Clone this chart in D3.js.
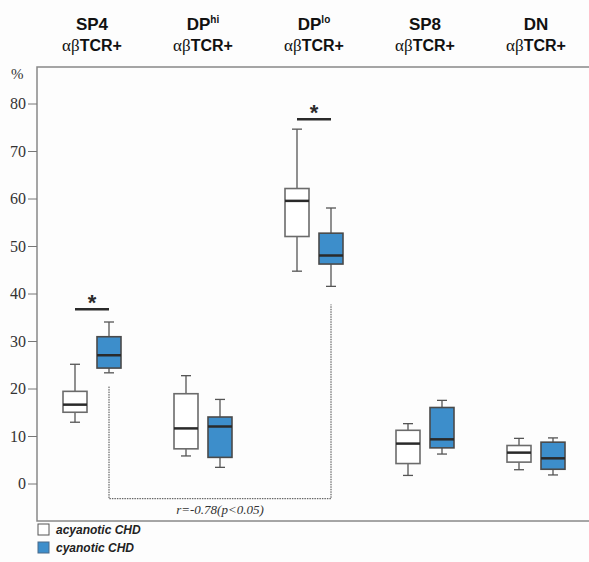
<!DOCTYPE html>
<html>
<head>
<meta charset="utf-8">
<script src="https://cdn.jsdelivr.net/npm/d3@7"></script>
<style>
  body { margin: 0; background: #fdfdfd; }
  svg { display: block; }
</style>
</head>
<body>
<div id="chart"></div>
<script>
// cell populations, two patient groups per population
const groups = ["SP4", "DPhi", "DPlo", "SP8", "DN"];
const groupMain = ["SP4", "DP", "DP", "SP8", "DN"];
const groupSup = ["", "hi", "lo", "", ""];
const series = ["acyanotic CHD", "cyanotic CHD"];

// [low whisker, Q1, median, Q3, high whisker]
const acyanotic = [
  [12.9, 15.0, 16.6, 19.4, 25.1],
  [5.8, 7.3, 11.6, 18.9, 22.7],
  [44.7, 52.0, 59.5, 62.1, 74.6],
  [1.7, 4.2, 8.4, 11.2, 12.6],
  [2.9, 4.5, 6.5, 8.0, 9.5]
];
const cyanotic = [
  [23.3, 24.3, 27.0, 30.9, 34.0],
  [3.4, 5.5, 12.0, 14.0, 17.7],
  [41.5, 46.2, 48.0, 52.7, 58.0],
  [6.2, 7.5, 9.3, 16.0, 17.5],
  [1.8, 3.0, 5.3, 8.7, 9.6]
];

// significance bars: group index and bar level (%)
const sigGroups = [0, 2];
const sigLevels = [36.7, 76.7];

// correlation bracket: from SP4 cyanotic to DPlo cyanotic
const corrFrom = { group: 0, top: 20.4 };
const corrTo = { group: 2, top: 37.7 };
const corrBottom = -3.2;
const corrLabel = "r=-0.78(p<0.05)";

const yTicks = [0, 10, 20, 30, 40, 50, 60, 70, 80];
const colors = ["#ffffff", "#3d8ecb"];
const strokes = ["#6b6b6b", "#4a4a4a"];

const serif = "'Liberation Serif', 'DejaVu Serif', serif";
const sans = "'Liberation Sans', Arial, sans-serif";

const width = 589, height = 562;
const frame = { left: 37, top: 67, right: 600, bottom: 521 };

const svg = d3.select("#chart").append("svg")
  .attr("width", width)
  .attr("height", height);

const y = d3.scaleLinear().domain([0, 80]).range([483.5, 103.5]);
const x = d3.scaleBand().domain(groups).range([36.5, 591.5]);
const xs = d3.scalePoint().domain(series).range([38.5, 72.5]);
const boxW = 24, capW = 10;

// frame
svg.append("rect")
  .attr("x", frame.left).attr("y", frame.top)
  .attr("width", frame.right - frame.left)
  .attr("height", frame.bottom - frame.top)
  .attr("fill", "none")
  .attr("stroke", "#888")
  .attr("stroke-width", 1.5);

// y axis
const yAxis = d3.axisLeft(y).tickValues(yTicks).tickSize(9).tickPadding(2);
const ga = svg.append("g")
  .attr("transform", `translate(${frame.left},0)`)
  .call(yAxis)
  .attr("font-family", serif)
  .attr("font-size", 16);
ga.select(".domain").remove();
ga.selectAll(".tick line").attr("stroke", "#777");
ga.selectAll(".tick text").attr("fill", "#333");

svg.append("text")
  .attr("x", 11).attr("y", 79)
  .attr("fill", "#333")
  .attr("font-family", serif)
  .attr("font-size", 15)
  .text("%");

// headers
const head = svg.append("g");
groups.forEach((g, i) => {
  const cx = x(g) + x.bandwidth() / 2;
  const t = head.append("text")
    .attr("x", cx).attr("y", 30)
    .attr("text-anchor", "middle")
    .attr("fill", "#111")
    .attr("font-family", sans)
    .attr("font-weight", "bold")
    .attr("font-size", 17);
  t.append("tspan").text(groupMain[i]);
  if (groupSup[i]) {
    t.append("tspan").attr("dy", -7).attr("font-size", 10).text(groupSup[i]);
  }
  const t2 = head.append("text")
    .attr("x", cx).attr("y", 51)
    .attr("text-anchor", "middle")
    .attr("fill", "#111")
    .attr("font-size", 17);
  t2.append("tspan")
    .attr("font-family", serif)
    .text("αβ");
  t2.append("tspan")
    .attr("font-family", sans)
    .attr("font-weight", "bold")
    .attr("font-size", 16)
    .text("TCR+");
});

// correlation bracket
const cx0 = x(groups[corrFrom.group]) + xs(series[1]);
const cx1 = x(groups[corrTo.group]) + xs(series[1]);
svg.append("path")
  .attr("d", d3.line()([
    [cx0, y(corrFrom.top)], [cx0, y(corrBottom)],
    [cx1, y(corrBottom)], [cx1, y(corrTo.top)]
  ]))
  .attr("fill", "none")
  .attr("stroke", "#444")
  .attr("stroke-width", 1)
  .attr("stroke-dasharray", "1.5,1");

svg.append("text")
  .attr("x", (cx0 + cx1) / 2).attr("y", 514)
  .attr("text-anchor", "middle")
  .attr("fill", "#333")
  .attr("font-family", serif)
  .attr("font-style", "italic")
  .attr("font-size", 13)
  .text(corrLabel);

// boxes
[acyanotic, cyanotic].forEach((data, s) => {
  const gs = svg.append("g");
  data.forEach((d, i) => {
    const cx = x(groups[i]) + xs(series[s]);
    const [lo, q1, med, q3, hi] = d;
    const g = gs.append("g");
    g.append("line")
      .attr("x1", cx).attr("x2", cx).attr("y1", y(hi)).attr("y2", y(q3))
      .attr("stroke", "#555").attr("stroke-width", 1.3);
    g.append("line")
      .attr("x1", cx).attr("x2", cx).attr("y1", y(q1)).attr("y2", y(lo))
      .attr("stroke", "#555").attr("stroke-width", 1.3);
    [hi, lo].forEach(v => g.append("line")
      .attr("x1", cx - capW / 2).attr("x2", cx + capW / 2)
      .attr("y1", y(v)).attr("y2", y(v))
      .attr("stroke", "#555").attr("stroke-width", 1.3));
    g.append("rect")
      .attr("x", cx - boxW / 2).attr("y", y(q3))
      .attr("width", boxW).attr("height", y(q1) - y(q3))
      .attr("fill", colors[s])
      .attr("stroke", strokes[s]).attr("stroke-width", 1.6);
    g.append("line")
      .attr("x1", cx - boxW / 2).attr("x2", cx + boxW / 2)
      .attr("y1", y(med)).attr("y2", y(med))
      .attr("stroke", "#2a2a2a").attr("stroke-width", 2.5);
  });
});

// significance bars
sigGroups.forEach((gi, k) => {
  const x0 = x(groups[gi]) + xs(series[0]);
  const x1 = x(groups[gi]) + xs(series[1]);
  svg.append("line")
    .attr("x1", x0).attr("x2", x1)
    .attr("y1", y(sigLevels[k])).attr("y2", y(sigLevels[k]))
    .attr("stroke", "#2a2a2a").attr("stroke-width", 2.5);
  svg.append("text")
    .attr("x", (x0 + x1) / 2).attr("y", y(sigLevels[k]) + 1)
    .attr("text-anchor", "middle")
    .attr("fill", "#2a2a2a")
    .attr("font-family", sans)
    .attr("font-weight", "bold")
    .attr("font-size", 22)
    .text("*");
});

// legend
const leg = svg.append("g");
series.forEach((s, i) => {
  const ly = 524 + i * 18;
  leg.append("rect")
    .attr("x", 38).attr("y", ly)
    .attr("width", 11).attr("height", 11)
    .attr("fill", colors[i])
    .attr("stroke", i ? "#4a6a8a" : "#555").attr("stroke-width", 1);
  leg.append("text")
    .attr("x", 56).attr("y", ly + 10)
    .attr("fill", "#222")
    .attr("font-family", sans)
    .attr("font-weight", "bold")
    .attr("font-style", "italic")
    .attr("font-size", 12)
    .text(s);
});
</script>
</body>
</html>
